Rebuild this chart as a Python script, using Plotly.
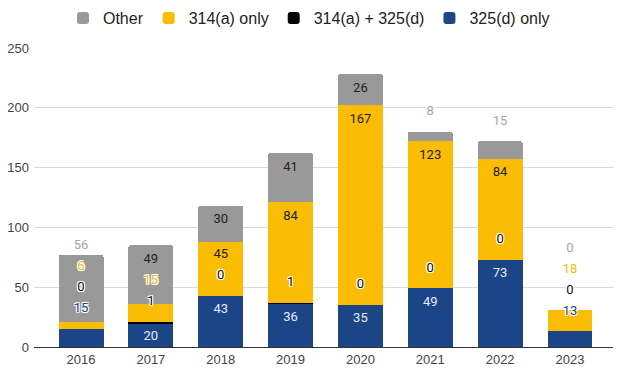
import plotly.graph_objects as go

# ---- data ----
years = ["2016", "2017", "2018", "2019", "2020", "2021", "2022", "2023"]
only_325d = [15, 20, 43, 36, 35, 49, 73, 13]
both_314a_325d = [0, 1, 0, 1, 0, 0, 0, 0]
only_314a = [6, 15, 45, 84, 167, 123, 84, 18]
other = [56, 49, 30, 41, 26, 8, 15, 0]

# name, values, bar colour, label colour inside, label colour outside
series = [
    ("325(d) only", only_325d, "#1c4587", "#e8eaf6", "#1c4587"),
    ("314(a) + 325(d)", both_314a_325d, "#000000", "#ffffff", "#111111"),
    ("314(a) only", only_314a, "#fbbc04", "#222222", "#fbbc04"),
    ("Other", other, "#999999", "#222222", "#a6a6a6"),
]

# page body has an 8px default margin, so the figure is sized to fit the window
W, H = 613, 370
M = dict(l=26, r=4, t=40, b=31, autoexpand=False)
YMAX = 250
ppu = (H - M["t"] - M["b"]) / YMAX  # pixels per unit

fig = go.Figure()
for name, vals, col, _, _ in series:
    fig.add_trace(go.Bar(
        x=years, y=vals, name=name, marker=dict(color=col, line=dict(width=0)),
        width=0.644, hoverinfo="skip",
    ))

# ---- data labels (Google-style placement with simple collision avoidance) ----
in_x, in_y, in_t, in_c = [], [], [], []
out_x, out_y, out_t, out_c = [], [], [], []
for i, yr in enumerate(years):
    base = 0
    prev = None
    for name, vals, col, incol, outcol in series:
        v = vals[i]
        top = base + v
        hpx = v * ppu
        toppx = top * ppu
        desired = toppx - 14 if hpx >= 23 else toppx + 20
        pos = desired if prev is None else max(desired, prev + 21)
        prev = pos
        if hpx >= 23 and pos + 6 <= toppx:
            in_x.append(yr); in_y.append(pos / ppu); in_t.append(str(v)); in_c.append(incol)
        else:
            out_x.append(yr); out_y.append(pos / ppu); out_t.append(str(v)); out_c.append(outcol)
        base = top

fig.add_trace(go.Scatter(
    x=in_x, y=in_y, text=in_t, mode="text", showlegend=False, hoverinfo="skip",
    textposition="middle center",
    textfont=dict(family="Roboto, Arial, sans-serif", size=13, color=in_c),
))
fig.add_trace(go.Scatter(
    x=out_x, y=out_y, text=out_t, mode="text", showlegend=False, hoverinfo="skip",
    textposition="middle center",
    textfont=dict(family="Roboto, Arial, sans-serif", size=13, color=out_c,
                  shadow="-1px -1px 0 #fff, 1px -1px 0 #fff, -1px 1px 0 #fff, 1px 1px 0 #fff, 0 0 2px #fff"),
))

fig.update_layout(
    width=W, height=H,
    margin=M,
    barmode="stack",
    barcornerradius=2,
    plot_bgcolor="white", paper_bgcolor="white",
    font=dict(family="Liberation Sans, Arial, sans-serif", size=13, color="#444444"),
    legend=dict(
        orientation="h", traceorder="reversed",
        x=0.491, xanchor="center", xref="container",
        y=1 - 10 / H, yanchor="middle", yref="container",
        font=dict(family="Liberation Sans, Arial, sans-serif", size=16, color="#222222"),
        itemclick=False, itemdoubleclick=False,
    ),
    xaxis=dict(
        type="category", range=[-0.673, 7.673],
        showline=True, linecolor="#333333", linewidth=1,
        showgrid=False, ticks="", tickfont=dict(size=13, color="#444444"),
    ),
    yaxis=dict(
        range=[0, YMAX], dtick=50, showgrid=True, gridcolor="#d9d9d9", gridwidth=1,
        zeroline=False, showline=False, ticks="",
        tickfont=dict(size=13, color="#444444"), ticklabelstandoff=4,
    ),
)

fig.write_html("out.html")
